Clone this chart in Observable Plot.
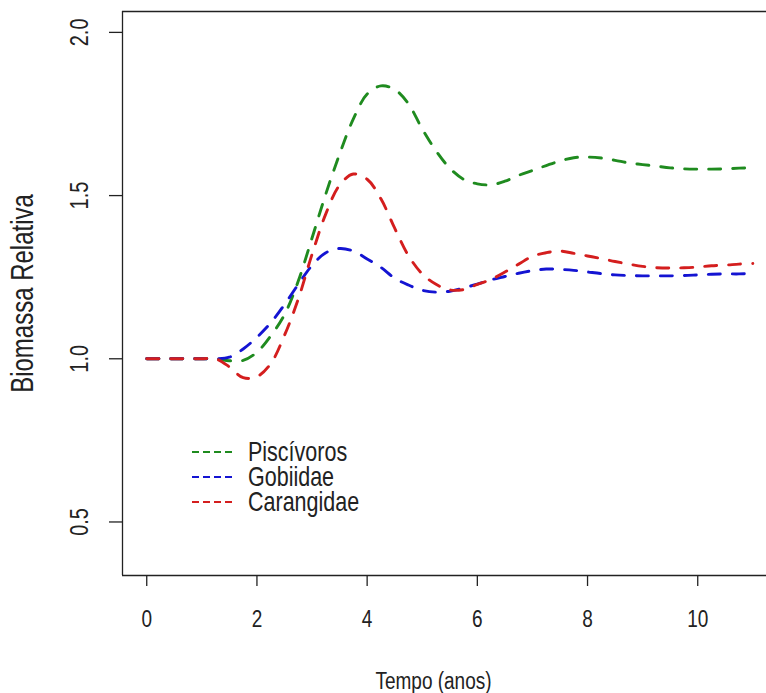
<!DOCTYPE html>
<html>
<head>
<meta charset="utf-8">
<script src="https://cdn.jsdelivr.net/npm/d3@7"></script>
<script src="https://cdn.jsdelivr.net/npm/@observablehq/plot@0.6"></script>
<style>
  html, body { margin: 0; padding: 0; background: #fff; overflow: hidden; }
  #wrap { position: relative; width: 766px; height: 693px; font-family: "Liberation Sans", Arial, sans-serif; color: #222; }
  #wrap > svg { position: absolute; left: 0; top: 0; }
  #legend { position: absolute; left: 190px; top: 439px; font-size: 21.5px; line-height: 25px; color: #222; }
  #legend .row { display: flex; align-items: center; height: 25px; }
  #legend svg { margin-right: 16px; }
  #legend span { display: inline-block; line-height: 18px; transform: scaleY(1.25); transform-origin: 0 50%; }
</style>
</head>
<body>
<div id="wrap"></div>
<script>
// ---- data ----
const tempo = [0,0.25,0.5,0.75,1,1.25,1.5,1.75,2,2.25,2.5,2.75,3,3.25,3.5,3.75,4,4.25,4.5,4.75,5,5.25,5.5,5.75,6,6.25,6.5,6.75,7,7.25,7.5,7.75,8,8.25,8.5,8.75,9,9.25,9.5,9.75,10,10.25,10.5,10.75,11];
const piscivoros = [1,1,1,1,1,1,0.994,0.995,1.02,1.07,1.135,1.238,1.37,1.505,1.627,1.735,1.811,1.836,1.825,1.781,1.704,1.637,1.584,1.55,1.536,1.533,1.544,1.562,1.577,1.592,1.606,1.616,1.618,1.615,1.608,1.6,1.595,1.59,1.585,1.582,1.581,1.581,1.582,1.584,1.585];
const gobiidae = [1,1,1,1,1,1,1.005,1.03,1.066,1.11,1.166,1.228,1.286,1.325,1.338,1.33,1.306,1.28,1.247,1.226,1.21,1.204,1.207,1.217,1.229,1.242,1.252,1.262,1.27,1.275,1.274,1.271,1.266,1.261,1.257,1.255,1.254,1.254,1.254,1.255,1.257,1.259,1.26,1.26,1.261];
const carangidae = [1,1,1,1,1,1,0.975,0.942,0.945,0.985,1.072,1.183,1.32,1.444,1.532,1.566,1.55,1.49,1.4,1.316,1.26,1.228,1.211,1.212,1.228,1.243,1.266,1.29,1.314,1.325,1.33,1.323,1.315,1.307,1.298,1.29,1.283,1.279,1.278,1.279,1.281,1.285,1.287,1.29,1.292];
const seriesNames = ["Piscívoros", "Gobiidae", "Carangidae"];
const seriesColors = ["#1f8b1f", "#1414d2", "#d41e1e"];
const xTicks = [0, 2, 4, 6, 8, 10];
const yTicks = [0.5, 1.0, 1.5, 2.0];
const xTitle = "Tempo (anos)";
const yTitle = "Biomassa Relativa";

// ---- table ----
const valuesBySeries = [piscivoros, gobiidae, carangidae];
const rows = [];
seriesNames.forEach((s, i) => {
  tempo.forEach((t, j) => rows.push({serie: s, tempo: t, valor: valuesBySeries[i][j]}));
});

const xDomain = [-0.44, 11.248];
const yDomain = [0.336, 2.064];
const fontSize = 19;

const chart = Plot.plot({
  width: 766,
  height: 693,
  marginLeft: 122,
  marginRight: 0,
  marginTop: 11,
  marginBottom: 118,
  style: {fontFamily: "Liberation Sans, Arial, sans-serif", fontSize: fontSize + "px", color: "#222", background: "#fff", overflow: "visible"},
  x: {domain: xDomain},
  y: {domain: yDomain},
  color: {domain: seriesNames, range: seriesColors},
  marks: [
    Plot.ruleX([xDomain[0]], {stroke: "#222", strokeWidth: 1.3}),
    Plot.ruleY([yDomain[0], yDomain[1]], {stroke: "#222", strokeWidth: 1.3}),
    Plot.axisX({ticks: xTicks, tickSize: 11, tickPadding: 25, fontSize: fontSize, label: null, strokeWidth: 1.3}),
    Plot.axisY({ticks: yTicks, tickSize: 13, tickFormat: () => "", label: null, strokeWidth: 1.3}),
    Plot.text(yTicks, {y: d => d, text: d => d.toFixed(1), frameAnchor: "left", dx: -43, rotate: -90, fontSize: 20, textAnchor: "middle", lineAnchor: "middle", fill: "#222"}),
    Plot.text([xTitle], {frameAnchor: "bottom", dx: -11, dy: 105, fontSize: fontSize, lineAnchor: "middle", fill: "#222"}),
    Plot.text([yTitle], {frameAnchor: "left", dx: -100, rotate: -90, fontSize: 24, textAnchor: "middle", lineAnchor: "middle", fill: "#222"}),
    Plot.line(rows, {x: "tempo", y: "valor", z: "serie", stroke: "serie", strokeWidth: 2.9, strokeDasharray: "12,12", curve: "catmull-rom"})
  ]
});

const wrap = document.getElementById("wrap");
wrap.appendChild(chart);

// tall, narrow glyphs like the reference: stretch each text along its glyph height, around its own centre
Array.from(chart.querySelectorAll("text")).forEach(t => {
  const r = t.getBoundingClientRect();
  const inv = t.parentNode.getScreenCTM().inverse();
  const p = new DOMPoint(r.left + r.width / 2, r.top + r.height / 2).matrixTransform(inv);
  const rotated = /rotate/.test(t.getAttribute("transform") || "");
  const g = document.createElementNS("http://www.w3.org/2000/svg", "g");
  g.setAttribute("transform", rotated
    ? `translate(${p.x},0) scale(1.3,1) translate(${-p.x},0)`
    : `translate(0,${p.y}) scale(1,1.3) translate(0,${-p.y})`);
  t.parentNode.insertBefore(g, t);
  g.appendChild(t);
});

// legend
const legend = document.createElement("div");
legend.id = "legend";
seriesNames.forEach((s, i) => {
  const row = document.createElement("div");
  row.className = "row";
  row.innerHTML = `<svg width="42" height="6"><line x1="2" y1="3" x2="42" y2="3" stroke="${seriesColors[i]}" stroke-width="1.8" stroke-dasharray="7,4"/></svg><span>${s}</span>`;
  legend.appendChild(row);
});
wrap.appendChild(legend);
</script>
</body>
</html>
